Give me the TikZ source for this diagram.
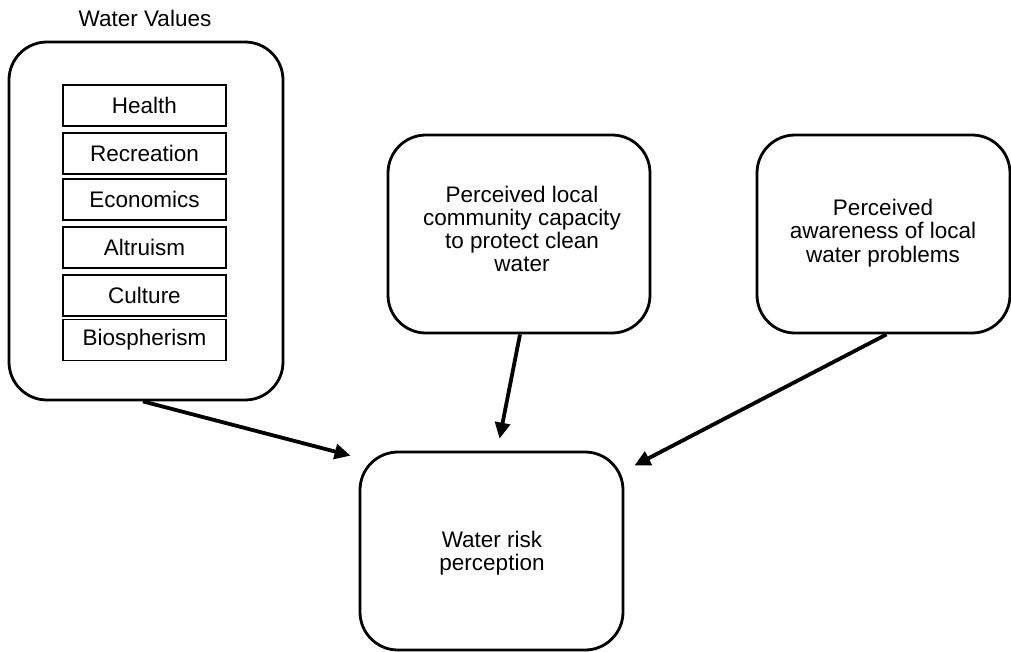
\documentclass[tikz,border=0pt]{standalone}
\usepackage{fontspec}
\setmainfont{Liberation Sans}
\usetikzlibrary{arrows.meta}

\begin{document}
\begin{tikzpicture}[x = 1pt, y = -1pt,
                    font = \fontsize{22.5}{23.3}\selectfont,
                    outer/.style = {draw, line width = 2.8pt, rounded corners = 38pt, align = center},
                    value/.style = {draw, line width = 1.6pt, minimum width = 163pt, minimum height = 41pt},
                    arr/.style = {line width = 3.8pt, -{Triangle[length = 16pt, width = 15pt]}}]

\useasboundingbox (0,0) rectangle (1011,651);

\node (VT) at (145,18) {Water Values};
\node [outer, minimum width = 274pt, minimum height = 358pt] (V) at (146,221) {};

% values
\node [value] (V1) at (144.5,105.5) {Health};
\node [value] (V2) at (144.5,153.5) {Recreation};
\node [value] (V3) at (144.5,199.5) {Economics};
\node [value] (V4) at (144.5,247.5) {Altruism};
\node [value] (V5) at (144.5,295.5) {Culture};
\node [value] (V6) at (144.5,340) {Biospherism};

% perceptions
\node [outer, minimum width = 262pt, minimum height = 198pt] (C) at (519,234) {};
\node [align = center] at (522,229) {Perceived local \\ community capacity \\ to protect clean \\ water};
\node [outer, minimum width = 253pt, minimum height = 198pt] (A) at (883.5,234) {};
\node [align = center] at (883,233) {Perceived \\ awareness of local \\ water problems};

\node [outer, minimum width = 263pt, minimum height = 198pt] (R) at (491.5,551) {};
\node [align = center] at (492,553) {Water risk \\ perception};

\draw [arr] ([xshift = -3pt]V.south) -- ([xshift = -8pt, yshift = -5pt]R.north west);
\draw [arr] ([xshift = 1pt]C.south) -- ([xshift = 8pt, yshift = 12pt]R.north);
\draw [arr] ([xshift = 3pt]A.south) -- ([xshift = 10pt, yshift = -15pt]R.north east);
\end{tikzpicture}
\end{document}
